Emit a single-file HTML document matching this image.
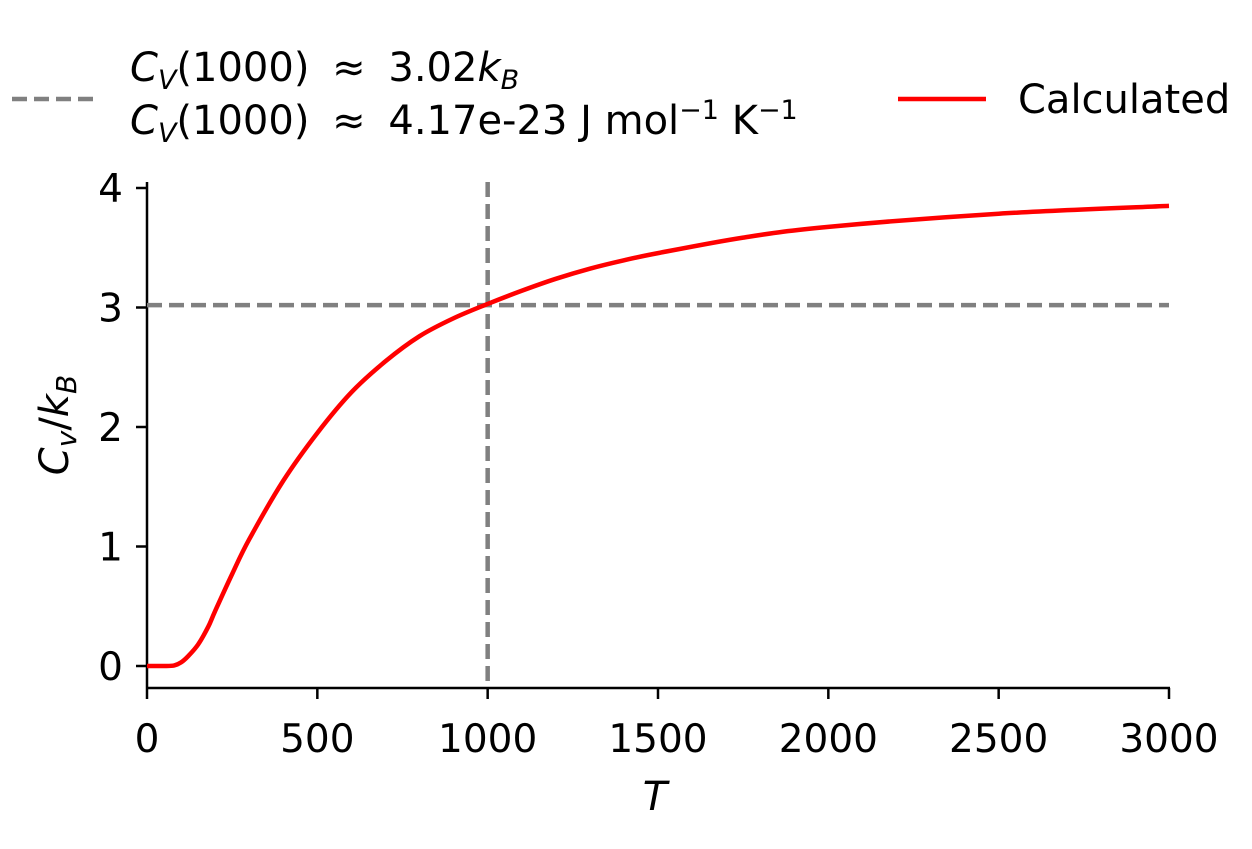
<!DOCTYPE html>
<html><head><meta charset="utf-8"><style>
html,body{margin:0;padding:0;background:#fff;}
svg{display:block;font-family:"DejaVu Sans","Liberation Sans",sans-serif;}
</style></head><body>
<svg id="chart" width="1252" height="849" viewBox="0 0 1252 849">
<g>
 <line x1="12" y1="99" x2="96" y2="99" stroke="#808080" stroke-width="4.5" stroke-dasharray="15,7"/>
 <text x="130" y="81" font-size="40" xml:space="preserve"><tspan font-style="italic">C</tspan><tspan font-style="italic" font-size="27" dy="8">V</tspan><tspan dy="-8">(1000) </tspan><tspan dx="10">≈</tspan><tspan dx="10"> 3.02</tspan><tspan font-style="italic">k</tspan><tspan font-style="italic" font-size="27" dy="8">B</tspan></text>
 <text x="130" y="134" font-size="40" xml:space="preserve"><tspan font-style="italic">C</tspan><tspan font-style="italic" font-size="27" dy="8">V</tspan><tspan dy="-8">(1000) </tspan><tspan dx="10">≈</tspan><tspan dx="10"> 4.17e-23 J mol</tspan><tspan font-size="27" dy="-15">−1</tspan><tspan dy="15"> K</tspan><tspan font-size="27" dy="-15">−1</tspan></text>
 <line x1="898" y1="99" x2="986" y2="99" stroke="#ff0000" stroke-width="4.5"/>
 <text x="1018" y="113" font-size="40">Calculated</text>
</g>
<g id="axes"></g>
<g id="marks"></g>
<text x="655" y="810" font-size="40" font-style="italic" text-anchor="middle">T</text>
<text transform="translate(68,425) rotate(-90)" font-size="40" text-anchor="middle"><tspan font-style="italic">C</tspan><tspan font-style="italic" font-size="28" dy="8">v</tspan><tspan dy="-8">/</tspan><tspan font-style="italic">k</tspan><tspan font-style="italic" font-size="28" dy="8">B</tspan></text>
</svg>
<script>
const temps = [0, 50, 80, 100, 120, 150, 180, 200, 250, 300, 400, 500, 600, 700, 800, 900, 1000, 1100, 1200, 1300, 1400, 1500, 1750, 2000, 2500, 3000];
const cv = [0, 0, 0.005, 0.03, 0.08, 0.18, 0.33, 0.46, 0.77, 1.06, 1.55, 1.95, 2.29, 2.55, 2.76, 2.91, 3.03, 3.14, 3.24, 3.325, 3.395, 3.455, 3.585, 3.675, 3.785, 3.85];
const xTicks = [0, 500, 1000, 1500, 2000, 2500, 3000];
const yTicks = [0, 1, 2, 3, 4];
const refT = 1000;
const refCv = 3.02;
const NS = "http://www.w3.org/2000/svg";
const X = t => 147 + (t / 3000) * (1169 - 147);
const Y = v => 666 - v * (666 - 188) / 4;
function mk(tag, attrs, parent) { const e = document.createElementNS(NS, tag); for (const k in attrs) e.setAttribute(k, attrs[k]); parent.appendChild(e); return e; }
const axes = document.getElementById('axes'), marks = document.getElementById('marks');
let e = mk('line', {x1: 147, y1: 182, x2: 147, y2: 688, stroke: '#000', 'stroke-width': 2.5}, axes);


e = mk('line', {x1: 146, y1: 688, x2: 1170, y2: 688, stroke: '#000', 'stroke-width': 2.5}, axes);


xTicks.forEach(t => {
  let l = mk('line', {x1: X(t), y1: 688, x2: X(t), y2: 699, stroke: '#000', 'stroke-width': 2.5}, axes);
  
  
  let tx = mk('text', {x: X(t), y: 752, 'font-size': 39, 'text-anchor': 'middle'}, axes);
  tx.textContent = t;
  
  
});
yTicks.forEach(v => {
  let l = mk('line', {x1: 136, y1: Y(v), x2: 147, y2: Y(v), stroke: '#000', 'stroke-width': 2.5}, axes);
  
  
  let tx = mk('text', {x: 123, y: Y(v) + 14, 'font-size': 39, 'text-anchor': 'end'}, axes);
  tx.textContent = v;
  
  
});
e = mk('line', {x1: X(0), y1: Y(refCv), x2: X(3000), y2: Y(refCv), stroke: '#808080', 'stroke-width': 4.5, 'stroke-dasharray': '15,7'}, marks);


e = mk('line', {x1: X(refT), y1: 182, x2: X(refT), y2: 688, stroke: '#808080', 'stroke-width': 4.5, 'stroke-dasharray': '15,7'}, marks);


const pts = temps.map((t, i) => [X(t), Y(cv[i])]);
let d = 'M' + pts[0][0] + ',' + pts[0][1];
for (let i = 0; i < pts.length - 1; i++) {
  const p0 = pts[Math.max(0, i - 1)], p1 = pts[i], p2 = pts[i + 1], p3 = pts[Math.min(pts.length - 1, i + 2)];
  const c1 = [p1[0] + (p2[0] - p0[0]) / 6, p1[1] + (p2[1] - p0[1]) / 6];
  const c2 = [p2[0] - (p3[0] - p1[0]) / 6, p2[1] - (p3[1] - p1[1]) / 6];
  d += ' C' + c1 + ' ' + c2 + ' ' + p2;
}
e = mk('path', {d: d, fill: 'none', stroke: '#ff0000', 'stroke-width': 4.5}, marks);


</script>
</body></html>
